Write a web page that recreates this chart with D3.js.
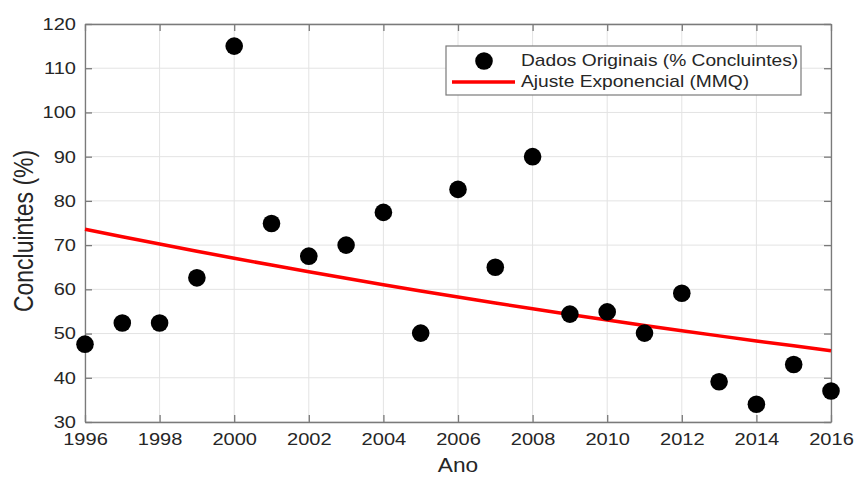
<!DOCTYPE html>
<html>
<head>
<meta charset="utf-8">
<script src="https://cdn.jsdelivr.net/npm/d3@7"></script>
<style>
  body { margin: 0; background: #fff; }
  text { font-family: "Liberation Sans", Arial, sans-serif; fill: #262626; }
</style>
</head>
<body>
<svg id="main-svg"></svg>
<script>
let years = [1996, 1997, 1998, 1999, 2000, 2001, 2002, 2003, 2004, 2005, 2006,
  2007, 2008, 2009, 2010, 2011, 2012, 2013, 2014, 2015, 2016];
let concluintes = [47.6, 52.4, 52.4, 62.6, 115, 74.9, 67.5, 70, 77.4, 50.1, 82.6,
  65, 90, 54.4, 54.9, 50.1, 59.1, 39.1, 34, 43, 37];
// exponential fit y = a * exp(b * (ano - 1996))
let fitA = 73.6;
let fitB = -0.02336;
let xTicks = d3.range(1996, 2017, 2);
let yTicks = d3.range(30, 121, 10);
let legendLabels = ['Dados Originais (% Concluintes)', 'Ajuste Exponencial (MMQ)'];

let width = 855;
let height = 478;
let margin = { top: 24, right: 24, bottom: 56, left: 85 };
let plotW = width - margin.left - margin.right;
let plotH = height - margin.top - margin.bottom;
let stretch = 1.18; // text in the original is a bit wider than Arial

let svg = d3.select('#main-svg')
  .attr('width', width)
  .attr('height', height);

let g = svg.append('g')
  .attr('transform', `translate(${margin.left} ${margin.top})`);

let x = d3.scaleLinear().domain([1996, 2016]).range([0, plotW]);
let y = d3.scaleLinear().domain([30, 120]).range([plotH, 0]);

// grid
g.append('g').selectAll('line').data(xTicks).join('line')
  .attr('x1', d => x(d)).attr('x2', d => x(d))
  .attr('y1', 0).attr('y2', plotH)
  .attr('stroke', '#e3e3e3').attr('stroke-width', 1);
g.append('g').selectAll('line').data(yTicks).join('line')
  .attr('x1', 0).attr('x2', plotW)
  .attr('y1', d => y(d)).attr('y2', d => y(d))
  .attr('stroke', '#e3e3e3').attr('stroke-width', 1);

// axes (ticks point inward)
let xAxis = g.append('g')
  .attr('transform', `translate(0 ${plotH})`)
  .call(d3.axisBottom(x).tickValues(xTicks).tickFormat(d3.format('d'))
    .tickSizeInner(-7).tickSizeOuter(0).tickPadding(11));
let xAxisTop = g.append('g')
  .call(d3.axisTop(x).tickValues(xTicks).tickFormat('')
    .tickSizeInner(-7).tickSizeOuter(0));
let yAxis = g.append('g')
  .call(d3.axisLeft(y).tickValues(yTicks)
    .tickSizeInner(-7).tickSizeOuter(0));
let yAxisRight = g.append('g')
  .attr('transform', `translate(${plotW} 0)`)
  .call(d3.axisRight(y).tickValues(yTicks).tickFormat('')
    .tickSizeInner(-7).tickSizeOuter(0));

[xAxis, xAxisTop, yAxis, yAxisRight].forEach(a => {
  a.select('.domain').attr('stroke', '#7a7a7a').attr('stroke-width', 1.3);
  a.selectAll('.tick line').attr('stroke', '#7a7a7a').attr('stroke-width', 1.3);
  a.selectAll('.tick text')
    .style('font-family', '"Liberation Sans", Arial, sans-serif')
    .style('font-size', '17px')
    .attr('fill', '#262626');
});
xAxis.selectAll('.tick text').attr('transform', `scale(${stretch} 1)`);
yAxis.selectAll('.tick text')
  .attr('x', 0)
  .attr('transform', `translate(-9 0) scale(${stretch} 1)`);

// fitted curve
let fitLine = d3.line()
  .x(d => x(d))
  .y(d => y(fitA * Math.exp(fitB * (d - 1996))));
g.append('path').datum(years)
  .attr('d', fitLine)
  .attr('fill', 'none')
  .attr('stroke', '#ff0000')
  .attr('stroke-width', 3.5);

// data points
g.append('g').selectAll('circle').data(years).join('circle')
  .attr('cx', d => x(d))
  .attr('cy', (d, i) => y(concluintes[i]))
  .attr('r', 8.8)
  .attr('fill', '#000');

// axis labels
svg.append('text')
  .attr('transform', `translate(${margin.left + plotW / 2} 472) scale(1.08 1)`)
  .attr('text-anchor', 'middle')
  .style('font-size', '21px')
  .text('Ano');
svg.append('text')
  .attr('transform', `translate(33 231) scale(${stretch} 1) rotate(-90)`)
  .attr('text-anchor', 'middle')
  .style('font-size', '23px')
  .text('Concluintes (%)');

// legend
let legend = svg.append('g').attr('transform', 'translate(446 46)');
legend.append('rect')
  .attr('width', 355).attr('height', 49)
  .attr('fill', '#fff')
  .attr('stroke', '#7a7a7a').attr('stroke-width', 1.2);
legend.append('circle')
  .attr('cx', 38).attr('cy', 15).attr('r', 8.8).attr('fill', '#000');
legend.append('line')
  .attr('x1', 6).attr('x2', 69).attr('y1', 36).attr('y2', 36)
  .attr('stroke', '#ff0000').attr('stroke-width', 3.5);
legend.selectAll('text.leg').data(legendLabels).join('text')
  .attr('class', 'leg')
  .attr('transform', (d, i) => `translate(75 ${20 + i * 21}) scale(1.2 1)`)
  .style('font-size', '16px')
  .text(d => d);
</script>
</body>
</html>
